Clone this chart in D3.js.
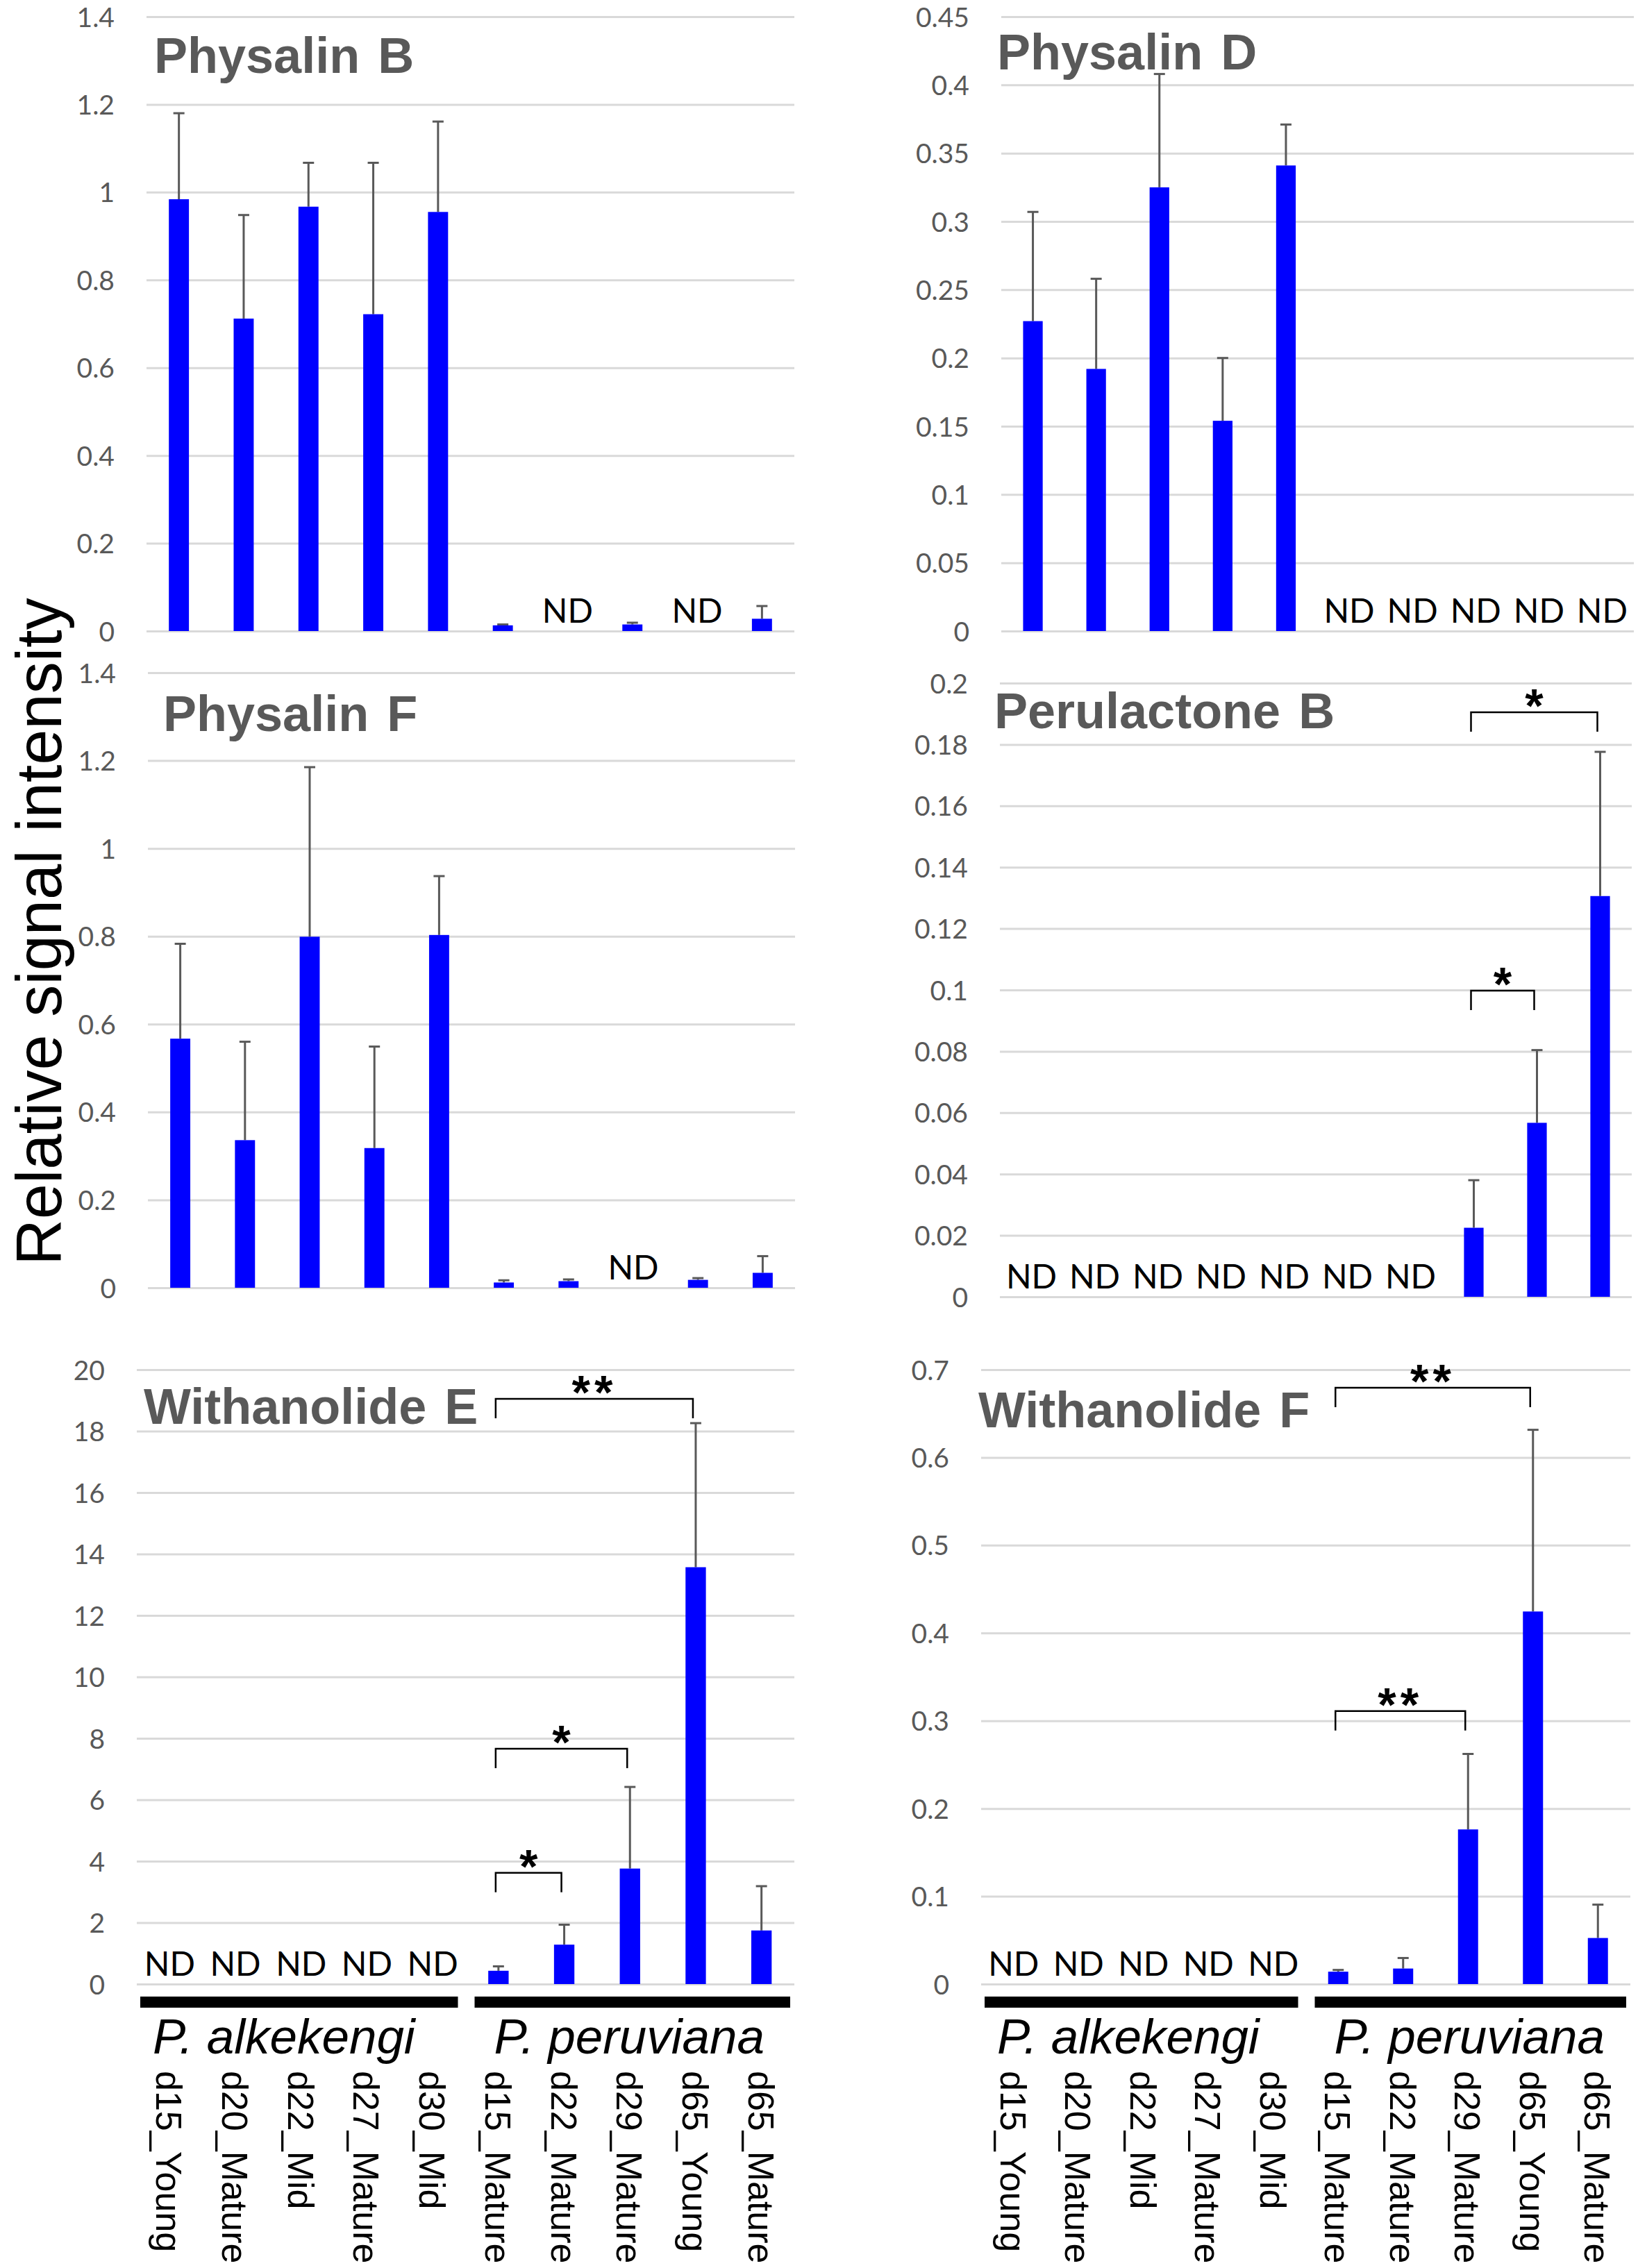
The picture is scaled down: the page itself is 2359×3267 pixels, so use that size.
<!DOCTYPE html>
<html><head><meta charset="utf-8">
<script src="https://cdn.jsdelivr.net/npm/d3@7"></script>
<style>body{margin:0;background:#fff}svg{display:block}</style>
</head><body><script>
// ---------- DATA ----------
const categories = ["d15_Young","d20_Mature","d22_Mid","d27_Mature","d30_Mid","d15_Mature","d22_Mature","d29_Mature","d65_Young","d65_Mature"];
const species = ["P. alkekengi","P. peruviana"];
const yTitle = "Relative signal intensity";

const physalinB    = [0.984, 0.712, 0.967, 0.722, 0.955, 0.013, null, 0.015, null, 0.028];
const physalinBErr = [0.196, 0.236, 0.100, 0.345, 0.206, 0.002, null, 0.004, null, 0.029];
const physalinBTicks = [0, 0.2, 0.4, 0.6, 0.8, 1, 1.2, 1.4];

const physalinD    = [0.227, 0.192, 0.325, 0.154, 0.341, null, null, null, null, null];
const physalinDErr = [0.080, 0.066, 0.083, 0.046, 0.030, null, null, null, null, null];
const physalinDTicks = [0, 0.05, 0.1, 0.15, 0.2, 0.25, 0.3, 0.35, 0.4, 0.45];

const physalinF    = [0.567, 0.336, 0.799, 0.318, 0.803, 0.012, 0.015, null, 0.018, 0.034];
const physalinFErr = [0.216, 0.224, 0.386, 0.231, 0.134, 0.005, 0.004, null, 0.004, 0.038];
const physalinFTicks = [0, 0.2, 0.4, 0.6, 0.8, 1, 1.2, 1.4];

const perulactoneB    = [null, null, null, null, null, null, null, 0.0225, 0.0567, 0.1306];
const perulactoneBErr = [null, null, null, null, null, null, null, 0.0155, 0.0237, 0.0470];
const perulactoneBTicks = [0, 0.02, 0.04, 0.06, 0.08, 0.1, 0.12, 0.14, 0.16, 0.18, 0.2];
const perulactoneBSig = [{from:7, to:9, y:0.1905, label:"*"}, {from:7, to:8, y:0.0998, label:"*"}];

const withanolideE    = [null, null, null, null, null, 0.433, 1.283, 3.76, 13.57, 1.745];
const withanolideEErr = [null, null, null, null, null, 0.144, 0.649, 2.657, 4.69, 1.442];
const withanolideETicks = [0, 2, 4, 6, 8, 10, 12, 14, 16, 18, 20];
const withanolideESig = [{from:5, to:8, y:19.05, label:"**"}, {from:5, to:7, y:7.66, label:"*"}, {from:5, to:6, y:3.62, label:"*"}];

const withanolideF    = [null, null, null, null, null, 0.0141, 0.0177, 0.1762, 0.4245, 0.0525];
const withanolideFErr = [null, null, null, null, null, 0.002, 0.012, 0.086, 0.207, 0.038];
const withanolideFTicks = [0, 0.1, 0.2, 0.3, 0.4, 0.5, 0.6, 0.7];
const withanolideFSig = [{from:5, to:8, y:0.6795, label:"**"}, {from:5, to:7, y:0.311, label:"**"}];

// ---------- LAYOUT ----------
const W = 2359, H = 3267;
const panels = [
  {title:"Physalin B",   values:physalinB,   errs:physalinBErr,   ticks:physalinBTicks,   sig:[],
   x0:211, x1:1144, yTop:24, yBase:909, tx:222, ty:105, bottom:false},
  {title:"Physalin D",   values:physalinD,   errs:physalinDErr,   ticks:physalinDTicks,   sig:[],
   x0:1442, x1:2353, yTop:24, yBase:909, tx:1436, ty:100, bottom:false},
  {title:"Physalin F",   values:physalinF,   errs:physalinFErr,   ticks:physalinFTicks,   sig:[],
   x0:213, x1:1145, yTop:969, yBase:1855, tx:235, ty:1053, bottom:false},
  {title:"Perulactone B",values:perulactoneB,errs:perulactoneBErr,ticks:perulactoneBTicks,sig:perulactoneBSig,
   x0:1440, x1:2350, yTop:984, yBase:1868, tx:1432, ty:1049, bottom:false},
  {title:"Withanolide E",values:withanolideE,errs:withanolideEErr,ticks:withanolideETicks,sig:withanolideESig,
   x0:197, x1:1144, yTop:1973, yBase:2858, tx:207, ty:2051, bottom:true},
  {title:"Withanolide F",values:withanolideF,errs:withanolideFErr,ticks:withanolideFTicks,sig:withanolideFSig,
   x0:1413, x1:2348, yTop:1973, yBase:2858, tx:1409, ty:2056, bottom:true}
];

const svg = d3.select("body").append("svg").attr("width", W).attr("height", H)
  .attr("viewBox", `0 0 ${W} ${H}`);
svg.append("rect").attr("width", W).attr("height", H).attr("fill", "#fff");

const tickFont = "Lato, 'Open Sans', sans-serif";
const arial = "'Liberation Sans', Arial, sans-serif";

panels.forEach(p => {
  const g = svg.append("g");
  const x = d3.scaleBand().domain(categories).range([p.x0, p.x1]).paddingInner(0.69).paddingOuter(0.345);
  const y = d3.scaleLinear().domain([0, d3.max(p.ticks)]).range([p.yBase, p.yTop]);
  const cx = i => x(categories[i]) + x.bandwidth() / 2;

  // axis with gridlines
  const axis = d3.axisLeft(y).tickValues(p.ticks).tickFormat(d => String(d))
    .tickSize(-(p.x1 - p.x0)).tickPadding(46);
  const ag = g.append("g").attr("transform", `translate(${p.x0},0)`).call(axis);
  ag.select(".domain").remove();
  ag.selectAll(".tick line").attr("stroke", "#d9d9d9").attr("stroke-width", 3);
  ag.selectAll(".tick text").attr("fill", "#595959").attr("font-family", tickFont)
    .attr("font-size", 39).attr("dy", "0.36em");

  const data = categories.map((c, i) => ({c, i, v: p.values[i], e: p.errs[i]}));
  const present = data.filter(d => d.v !== null);
  const missing = data.filter(d => d.v === null);

  // error bars
  const eg = g.append("g").attr("stroke", "#595959").attr("stroke-width", 3);
  eg.selectAll("line.v").data(present).join("line").attr("class", "v")
    .attr("x1", d => cx(d.i)).attr("x2", d => cx(d.i))
    .attr("y1", d => y(d.v)).attr("y2", d => y(d.v + d.e));
  eg.selectAll("line.c").data(present).join("line").attr("class", "c")
    .attr("x1", d => cx(d.i) - 8).attr("x2", d => cx(d.i) + 8)
    .attr("y1", d => y(d.v + d.e)).attr("y2", d => y(d.v + d.e));

  // bars
  g.append("g").selectAll("rect").data(present).join("rect")
    .attr("x", d => x(d.c)).attr("width", x.bandwidth())
    .attr("y", d => y(d.v)).attr("height", d => y(0) - y(d.v))
    .attr("fill", "#0000ff");

  // ND labels
  g.append("g").selectAll("text").data(missing).join("text")
    .attr("x", d => cx(d.i)).attr("y", y(0) - 12)
    .attr("text-anchor", "middle").attr("font-family", tickFont).attr("font-size", 48)
    .attr("fill", "#000").text("ND");

  // title
  g.append("text").attr("x", p.tx).attr("y", p.ty)
    .attr("font-family", arial).attr("font-weight", "bold").attr("font-size", 72)
    .attr("word-spacing", 6).attr("fill", "#595959").text(p.title);

  // significance brackets
  const sg = g.append("g");
  p.sig.forEach(s => {
    const xa = cx(s.from) - 4, xb = cx(s.to) - 4, yy = y(s.y);
    sg.append("path").attr("d", `M${xa},${yy + 28}V${yy}H${xb}V${yy + 28}`)
      .attr("fill", "none").attr("stroke", "#000").attr("stroke-width", 2.5);
    sg.append("text").attr("x", (xa + xb) / 2).attr("y", yy + 14)
      .attr("text-anchor", "middle").attr("font-family", arial).attr("font-weight", "bold")
      .attr("font-size", 68).attr("letter-spacing", s.label.length > 1 ? 6 : 0)
      .attr("fill", "#000").text(s.label);
  });

  // bottom annotations
  if (p.bottom) {
    const mid = (p.x0 + p.x1) / 2;
    const groups = [
      {name: species[0], a: p.x0 + 5, b: mid - 11, off: 18},
      {name: species[1], a: mid + 13, b: p.x1 - 6, off: 28}
    ];
    groups.forEach(gr => {
      g.append("rect").attr("x", gr.a).attr("y", 2876).attr("width", gr.b - gr.a).attr("height", 16).attr("fill", "#000");
      g.append("text").attr("x", gr.a + gr.off).attr("y", 2958)
        .attr("font-family", arial).attr("font-style", "italic").attr("font-size", 71)
        .attr("fill", "#000").text(gr.name);
    });
    g.append("g").selectAll("text").data(categories).join("text")
      .attr("transform", (c, i) => `translate(${cx(i) - 19},2983) rotate(90)`)
      .attr("font-family", arial).attr("font-size", 52).attr("fill", "#000")
      .text(c => c);
  }
});

// y-axis title
svg.append("text").attr("transform", "translate(88,1342) rotate(-90)")
  .attr("text-anchor", "middle").attr("font-family", arial).attr("font-size", 92)
  .attr("fill", "#000").text(yTitle);
</script></body></html>
